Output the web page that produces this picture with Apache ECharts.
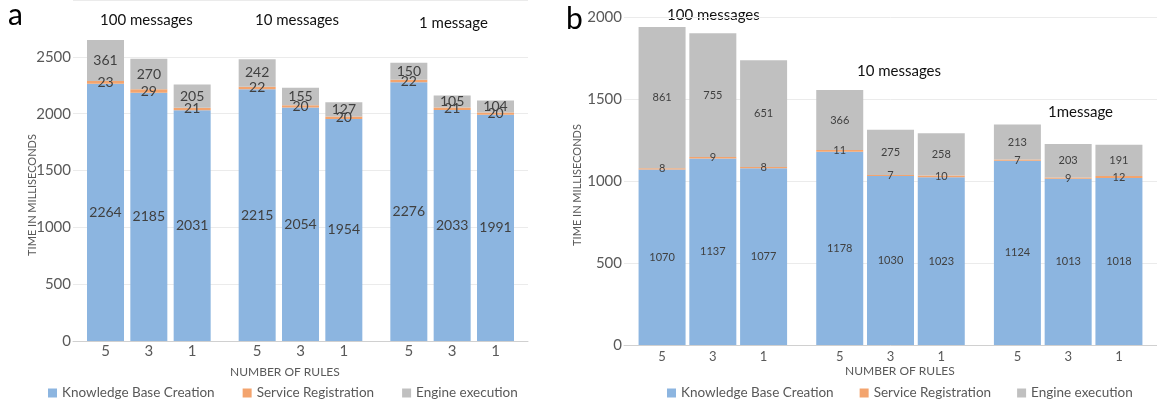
<!DOCTYPE html>
<html>
<head>
<meta charset="utf-8">
<script src="https://cdn.jsdelivr.net/npm/echarts@6/dist/echarts.min.js"></script>
<style>
  html, body { margin: 0; padding: 0; background: #fff; }
  #chart { width: 1157px; height: 401px; }
</style>
</head>
<body>
<div id="chart"></div>
<script>
  // data
  const groupsA = ['100 messages', '10 messages', '1 message'];
  const groupsB = ['100 messages', '10 messages', '1message'];
  const rules = ['5', '3', '1'];
  const seriesNames = ['Knowledge Base Creation', 'Service Registration', 'Engine execution'];

  const kbA = [2264, 2185, 2031, 2215, 2054, 1954, 2276, 2033, 1991];
  const srA = [23, 29, 21, 22, 20, 20, 22, 21, 20];
  const eeA = [361, 270, 205, 242, 155, 127, 150, 105, 104];

  const kbB = [1070, 1137, 1077, 1178, 1030, 1023, 1124, 1013, 1018];
  const srB = [8, 9, 8, 11, 7, 10, 7, 9, 12];
  const eeB = [861, 755, 651, 366, 275, 258, 213, 203, 191];

  const colors = ['#8cb5e0', '#f3a46e', '#c0c0c0'];
  const FONT = 'Lato, "Open Sans", sans-serif';

  // category slots: padding, bars with a blank slot between, two blanks between groups
  function buildSlots() {
    let cats = [''], idx = [];
    for (let g = 0; g < 3; g++) {
      if (g) cats.push('', '');
      rules.forEach((r, ri) => {
        if (ri) cats.push('');
        idx.push(cats.length);
        cats.push(r);
      });
    }
    cats.push('');
    return { cats, idx };
  }
  const slots = buildSlots();

  function place(values) {
    let out = slots.cats.map(() => '-');
    values.forEach((v, i) => { out[slots.idx[i]] = v; });
    return out;
  }

  function makeSeries(vals, axis, barWidth, fontSize) {
    return vals.map((v, i) => ({
      name: seriesNames[i],
      type: 'bar',
      stack: 'p' + axis,
      xAxisIndex: axis,
      yAxisIndex: axis,
      barWidth: barWidth,
      data: place(v),
      itemStyle: { color: colors[i] },
      label: {
        show: true,
        position: 'inside',
        formatter: '{c}',
        color: '#404040',
        fontSize: fontSize,
        fontFamily: FONT
      }
    }));
  }

  function xAxis(grid, fontSize, margin) {
    return {
      type: 'category',
      gridIndex: grid,
      data: slots.cats,
      axisTick: { show: false },
      axisLine: { lineStyle: { color: '#d0d0d0' } },
      axisLabel: { interval: 0, color: '#595959', fontSize: fontSize, margin: margin, fontFamily: FONT }
    };
  }

  function yAxis(grid, max, margin) {
    return {
      type: 'value',
      gridIndex: grid,
      min: 0,
      max: max,
      interval: 500,
      axisLine: { show: false },
      axisTick: { show: false },
      axisLabel: {
        color: '#595959', fontSize: 15, margin: margin, showMaxLabel: grid === 1,
        fontFamily: FONT, formatter: v => String(v)
      },
      splitLine: { lineStyle: { color: '#ebebeb' } }
    };
  }

  function legend(left, gap) {
    return {
      left: left,
      top: 386,
      padding: 0,
      icon: 'rect',
      itemWidth: 9,
      itemHeight: 9,
      itemGap: gap,
      data: seriesNames,
      textStyle: { color: '#595959', fontSize: 13.5, fontFamily: FONT }
    };
  }

  function txt(s, left, top, size, color, rot) {
    let el = {
      type: 'text',
      left: left,
      top: top,
      style: { text: s, fontSize: size, fill: color, fontFamily: FONT }
    };
    if (rot) {
      el = {
        type: 'text',
        x: left,
        y: top,
        rotation: Math.PI / 2,
        style: { text: s, fontSize: size, fill: color, fontFamily: FONT, align: 'center', verticalAlign: 'middle' }
      };
    }
    return el;
  }

  const chart = echarts.init(document.getElementById('chart'));

  const option = {
    animation: false,
    textStyle: { fontFamily: FONT },
    grid: [
      { left: 73, right: 629, top: -7, bottom: 60 },
      { left: 624, right: -13, top: 17, bottom: 56 }
    ],
    xAxis: [xAxis(0, 15, 3), xAxis(1, 13, 5)],
    yAxis: [yAxis(0, 3000, 2), yAxis(1, 2000, 2)],
    legend: [legend(48, 28), legend(667, 26)],
    graphic: [
      txt('a', 8, 0, 30, '#000'),
      txt('b', 566, 4, 30, '#000'),
      txt(groupsA[0], 100, 13, 15, '#111'),
      txt(groupsA[1], 255, 13, 15, '#111'),
      txt(groupsA[2], 419, 16, 15, '#111'),
      txt(groupsB[0], 667, 8, 15, '#111'),
      txt(groupsB[1], 857, 64, 15, '#111'),
      txt(groupsB[2], 1048, 105, 15, '#111'),
      txt('TIME IN MILLISECONDS', 32, 195, 11, '#595959', true),
      txt('TIME IN MILLISECONDS', 577, 185, 11, '#595959', true),
      txt('NUMBER OF RULES', 230, 366, 12, '#595959'),
      txt('NUMBER OF RULES', 845, 365, 12, '#595959')
    ],
    series: makeSeries([kbA, srA, eeA], 0, 37, 14).concat(makeSeries([kbB, srB, eeB], 1, 47, 11))
  };

  chart.setOption(option);
</script>
</body>
</html>
